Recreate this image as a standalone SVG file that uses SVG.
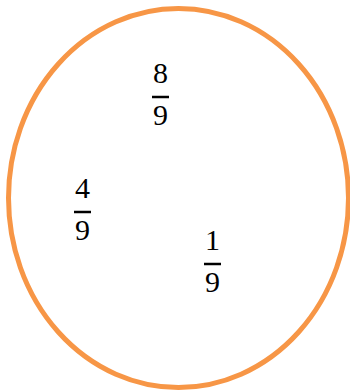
<svg xmlns="http://www.w3.org/2000/svg" width="350" height="391" viewBox="0 0 350 391">
<style>
.t{font-family:"Liberation Serif","DejaVu Serif",serif;font-size:30px;fill:#000;text-anchor:middle}
.bar{stroke:#000;stroke-width:2.5}
</style>
<rect width="350" height="391" fill="#fff"/>
<g id="ellipse"><ellipse cx="178.5" cy="198" rx="170" ry="189.5" fill="none" stroke="#F79646" stroke-width="5"/></g>
<g id="f89">
<text class="t" x="160.5" y="83">8</text>
<line class="bar" x1="152" y1="97" x2="169" y2="97"/>
<text class="t" x="160.5" y="125">9</text>
</g>
<g id="f49">
<text class="t" x="82.5" y="198">4</text>
<line class="bar" x1="74" y1="212" x2="91" y2="212"/>
<text class="t" x="82.5" y="240">9</text>
</g>
<g id="f19">
<text class="t" x="212.5" y="250">1</text>
<line class="bar" x1="204" y1="264" x2="221" y2="264"/>
<text class="t" x="212.5" y="292">9</text>
</g>
</svg>
